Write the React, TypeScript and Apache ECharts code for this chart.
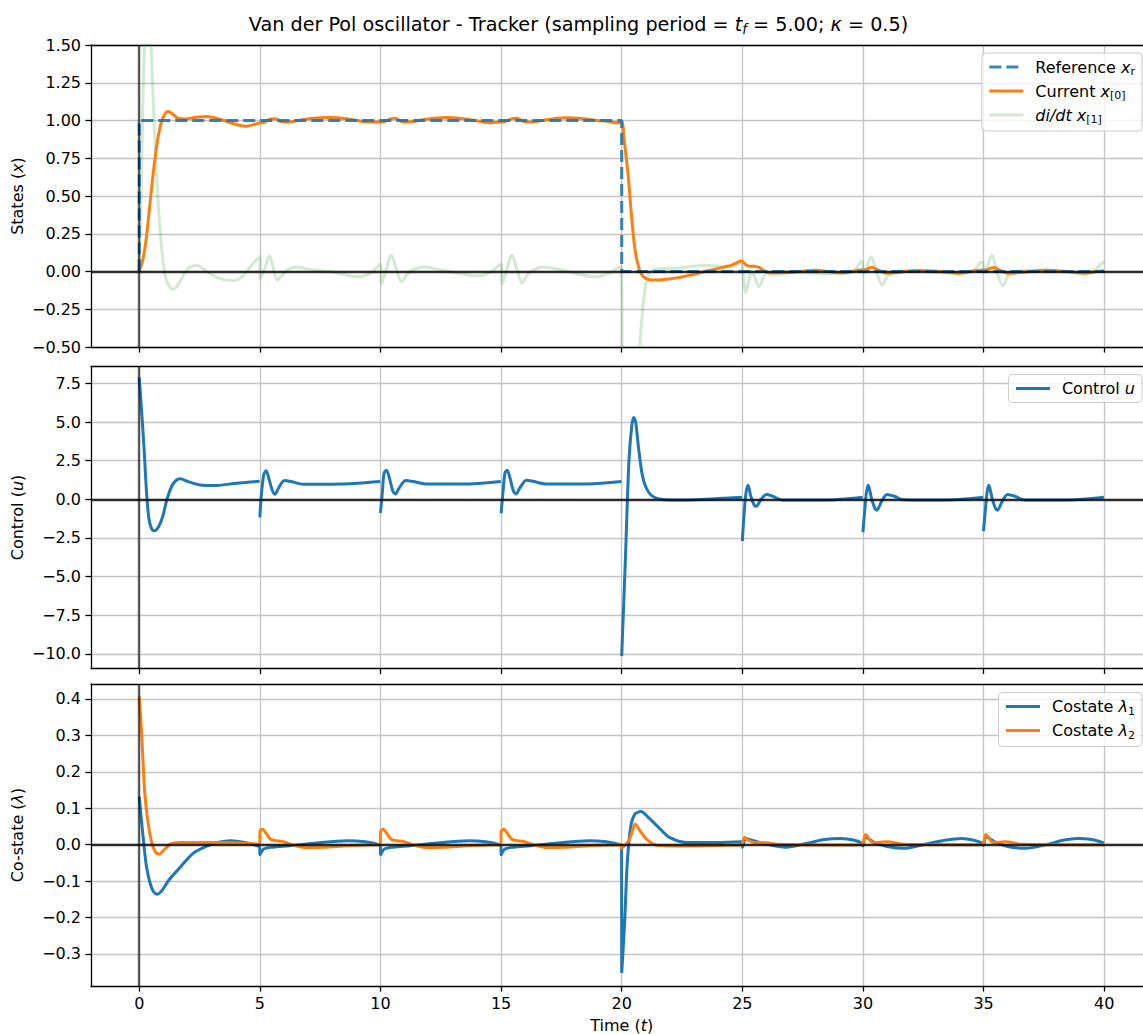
import React, { useEffect, useRef } from 'react';
import * as echarts from 'echarts';

// ---------- tick labels ----------
const X_TICKS = [0, 5, 10, 15, 20, 25, 30, 35, 40];
const Y_STATE_TICKS = [-0.5, -0.25, 0, 0.25, 0.5, 0.75, 1.0, 1.25, 1.5];
const Y_CONTROL_TICKS = [-10, -7.5, -5, -2.5, 0, 2.5, 5, 7.5];
const Y_COSTATE_TICKS = [-0.3, -0.2, -0.1, 0, 0.1, 0.2, 0.3, 0.4];

// ---------- series values [t, value] ----------
const REF_X: [number, number][] = [[0, 0], [0.001, 1], [20, 1], [20.001, 0], [40, 0]];

const CUR_X0: [number, number][] = [
  [0, 0], [0.15, 0.08], [0.3, 0.23], [0.45, 0.46], [0.6, 0.68], [0.75, 0.86], [0.9, 0.98], [1.05, 1.04], [1.2, 1.06],
  [1.4, 1.04], [1.6, 1.015], [1.9, 1.01], [2.3, 1.02], [2.8, 1.027], [3.3, 1.01], [3.7, 0.99], [4.1, 0.97], [4.45, 0.962],
  [4.8, 0.975], [5.0, 0.985],
  [5.2, 0.99], [5.45, 1.01], [5.65, 1.012], [5.85, 0.995], [6.1, 0.99], [6.6, 1.0], [7.2, 1.015], [7.9, 1.02], [8.6, 1.012],
  [9.2, 0.995], [9.6, 0.99], [10.0, 0.99],
  [10.2, 0.995], [10.45, 1.012], [10.6, 1.015], [10.85, 0.995], [11.1, 0.99], [11.6, 1.0], [12.2, 1.015], [12.8, 1.02],
  [13.5, 1.01], [14.1, 0.995], [14.5, 0.985], [15.0, 0.99],
  [15.2, 0.995], [15.45, 1.012], [15.65, 1.015], [15.9, 0.995], [16.2, 0.99], [16.7, 1.0], [17.2, 1.012], [17.7, 1.018],
  [18.4, 1.012], [19.0, 1.0], [19.4, 0.995], [19.8, 0.985], [20.0, 0.99],
  [20.1, 0.87], [20.26, 0.65], [20.4, 0.38], [20.54, 0.16], [20.7, 0.03], [20.9, -0.035], [21.26, -0.057], [21.98, -0.05],
  [22.84, -0.024], [23.7, 0.01], [24.55, 0.042], [24.97, 0.07],
  [25.15, 0.045], [25.3, 0.035], [25.5, 0.034], [25.7, 0.028], [25.9, 0.005], [26.15, -0.01], [27, -0.006], [28, 0.008],
  [29.1, -0.008], [29.7, 0.005], [29.95, 0.012],
  [30.1, 0.01], [30.25, 0.022], [30.4, 0.028], [30.6, 0.012], [31, -0.012], [31.5, -0.005], [32.3, 0.007], [33.2, 0.0],
  [34, -0.012], [34.6, 0.005], [34.95, 0.01],
  [35.1, 0.01], [35.3, 0.022], [35.45, 0.026], [35.65, 0.01], [36, -0.012], [36.6, -0.005], [37.6, 0.009], [38.5, 0.0],
  [39.2, -0.012], [39.7, 0.0], [40, 0.005],
];

const DIDT_X1: [number, number][] = [
  [0, 0], [0.08, 0.5], [0.16, 1.2], [0.25, 1.6], [0.35, 1.72], [0.45, 1.6], [0.55, 1.25], [0.65, 0.85], [0.75, 0.55],
  [0.85, 0.3], [1.0, 0.05], [1.15, -0.07], [1.4, -0.12], [1.6, -0.09], [1.85, -0.02], [2.1, 0.03], [2.4, 0.04], [2.8, 0.0],
  [3.3, -0.045], [3.9, -0.06], [4.3, -0.03], [4.7, 0.05], [5.0, 0.1],
  [5.02, -0.05], [5.2, 0.02], [5.4, 0.105], [5.55, 0.03], [5.72, -0.055], [5.9, -0.03], [6.15, 0.01], [6.5, 0.03],
  [7.2, 0.01], [7.9, 0.0], [8.5, -0.02], [9.1, -0.035], [9.6, -0.01], [10.0, 0.05],
  [10.05, -0.08], [10.25, 0.02], [10.44, 0.11], [10.65, 0.02], [10.87, -0.07], [11.1, -0.02], [11.4, 0.015], [11.8, 0.03],
  [12.5, 0.01], [13.2, -0.01], [14.0, -0.03], [14.5, -0.01], [15.0, 0.05],
  [15.05, -0.08], [15.25, 0.02], [15.44, 0.11], [15.65, 0.02], [15.87, -0.075], [16.1, -0.02], [16.4, 0.015], [16.7, 0.03],
  [17.5, 0.01], [18.3, -0.02], [18.9, -0.035], [19.5, -0.01], [19.95, 0.03],
  [20.0, 0.02], [20.02, -0.6], [20.1, -1.5], [20.3, -2.1], [20.45, -1.8], [20.6, -1.0], [20.75, -0.5], [20.9, -0.2],
  [21.05, -0.05], [21.3, 0.01], [22.4, 0.024], [23.4, 0.042], [24.55, 0.03], [24.97, 0.064],
  [25.0, 0.03], [25.15, -0.14], [25.4, 0.0], [25.7, -0.1], [26.0, -0.01], [26.6, 0.0], [27.7, -0.01], [28.5, -0.015],
  [29.1, -0.015], [29.6, 0.0], [29.95, 0.07],
  [30.05, -0.01], [30.35, 0.097], [30.55, 0.0], [30.8, -0.09], [31.05, -0.02], [31.25, 0.0], [32.0, 0.01], [33.4, -0.01],
  [34.5, 0.0], [34.95, 0.064],
  [35.05, -0.005], [35.35, 0.108], [35.55, 0.0], [35.8, -0.095], [36.05, -0.02], [36.3, 0.0], [37.6, 0.01], [39.0, -0.01],
  [39.5, 0.0], [40, 0.07],
];

// control u: one list per sampling period (drawn with gaps between them)
const U_0 = [[0, 7.9], [0.09, 5.9], [0.2, 3.3], [0.3, 0.5], [0.4, -1.24], [0.52, -1.93], [0.63, -2.04], [0.8, -1.78],
  [0.97, -1.13], [1.16, 0.07], [1.37, 0.93], [1.55, 1.25], [1.69, 1.33], [2.02, 1.15], [2.52, 0.93], [3.09, 0.89],
  [3.94, 1.02], [4.99, 1.17]];
const U_5 = [[5.0, -1.17], [5.05, 0.07], [5.16, 1.59], [5.26, 1.85], [5.37, 1.37], [5.51, 0.61], [5.63, 0.33], [5.77, 0.72],
  [6.02, 1.22], [6.3, 1.15], [6.8, 0.98], [7.94, 0.98], [9.08, 1.04], [9.99, 1.15]];
const U_10 = [[10.0, -0.87], [10.08, 0.5], [10.15, 1.7], [10.25, 1.89], [10.37, 1.37], [10.51, 0.54], [10.62, 0.35],
  [10.77, 0.72], [11.05, 1.22], [11.36, 1.15], [11.86, 1.0], [13.65, 1.0], [14.99, 1.15]];
const U_15 = [[15.0, -0.9], [15.08, 0.5], [15.16, 1.7], [15.25, 1.89], [15.37, 1.37], [15.51, 0.54], [15.62, 0.35],
  [15.77, 0.72], [16.05, 1.24], [16.36, 1.15], [16.86, 1.0], [18.6, 1.0], [19.99, 1.15]];
const U_20 = [[20.0, -10.15], [20.15, -4.0], [20.3, 2.5], [20.42, 4.8], [20.5, 5.3], [20.58, 5.0], [20.7, 3.3],
  [20.85, 1.6], [21.0, 0.8], [21.2, 0.3], [21.5, 0.05], [22.0, -0.05], [23, -0.03], [24, 0.05], [24.99, 0.13]];
const U_25 = [[25.0, -2.7], [25.08, -0.8], [25.16, 0.5], [25.24, 0.91], [25.35, 0.2], [25.5, -0.4], [25.58, -0.45],
  [25.75, -0.07], [26.0, 0.32], [26.25, 0.2], [26.7, -0.05], [28.4, -0.05], [29.99, 0.13]];
const U_30 = [[30.0, -2.13], [30.08, -0.6], [30.15, 0.5], [30.22, 0.91], [30.35, 0.1], [30.5, -0.6], [30.58, -0.7],
  [30.75, -0.2], [31.0, 0.32], [31.3, 0.2], [31.7, -0.03], [33.5, -0.05], [34.99, 0.13]];
const U_35 = [[35.0, -2.05], [35.08, -0.6], [35.15, 0.5], [35.22, 0.91], [35.35, 0.1], [35.5, -0.6], [35.58, -0.7],
  [35.75, -0.2], [36.0, 0.32], [36.3, 0.2], [36.7, -0.05], [38.5, -0.05], [39.99, 0.13]];
const U_SEGMENTS = [U_0, U_5, U_10, U_15, U_20, U_25, U_30, U_35];

const LAMBDA_1: [number, number][] = [
  [0, 0.132], [0.09, 0.068], [0.2, -0.005], [0.3, -0.06], [0.45, -0.106], [0.59, -0.129], [0.76, -0.136], [0.95, -0.125],
  [1.23, -0.097], [1.66, -0.065], [2.23, -0.024], [2.8, -0.004], [3.23, 0.006], [3.8, 0.011], [4.37, 0.006],
  [4.94, -0.004], [4.995, -0.01],
  [5.0, -0.028], [5.16, -0.012], [5.52, -0.007], [6.23, -0.003], [7.23, 0.004], [8.66, 0.011], [9.37, 0.008],
  [9.94, 0.0], [9.995, -0.005],
  [10.0, -0.028], [10.16, -0.012], [10.52, -0.007], [11.23, -0.003], [12.23, 0.004], [13.66, 0.011], [14.37, 0.008],
  [14.94, 0.0], [14.995, -0.005],
  [15.0, -0.028], [15.16, -0.012], [15.52, -0.007], [16.23, -0.003], [17.23, 0.004], [18.66, 0.011], [19.37, 0.008],
  [19.94, 0.0], [19.995, -0.004],
  [20.0, -0.352], [20.12, -0.215], [20.23, -0.05], [20.37, 0.048], [20.54, 0.083], [20.8, 0.091], [21.1, 0.075],
  [21.55, 0.046], [21.98, 0.02], [22.7, 0.006], [23.8, 0.006], [24.98, 0.008],
  [25.0, -0.007], [25.15, 0.017], [25.5, 0.01], [25.85, 0.004], [26.8, -0.007], [27.7, 0.004], [28.4, 0.014],
  [29.1, 0.017], [29.65, 0.012], [29.95, 0.004],
  [30.0, -0.004], [30.1, 0.02], [30.5, 0.005], [31.0, -0.005], [31.7, -0.01], [32.5, 0.0], [33.4, 0.012], [34.1, 0.017],
  [34.6, 0.012], [34.95, 0.004],
  [35.0, -0.002], [35.1, 0.022], [35.5, 0.006], [36.0, -0.005], [36.75, -0.01], [37.6, 0.0], [38.3, 0.012],
  [38.9, 0.017], [39.5, 0.014], [40, 0.004],
];

const LAMBDA_2: [number, number][] = [
  [0, 0.407], [0.09, 0.315], [0.16, 0.223], [0.23, 0.141], [0.35, 0.068], [0.49, 0.013], [0.66, -0.019], [0.83, -0.026],
  [1.02, -0.015], [1.3, 0.002], [1.66, 0.006], [2.94, 0.006], [4.37, 0.004], [4.995, 0.001],
  [5.0, 0.036], [5.11, 0.042], [5.26, 0.031], [5.44, 0.015], [5.66, 0.011], [5.94, 0.009], [6.37, -0.001], [6.94, -0.008],
  [7.65, -0.007], [8.66, -0.003], [9.94, 0.0], [9.995, 0.0],
  [10.0, 0.036], [10.11, 0.042], [10.26, 0.031], [10.44, 0.015], [10.66, 0.011], [10.94, 0.009], [11.37, -0.001],
  [11.94, -0.008], [12.65, -0.007], [13.66, -0.003], [14.94, 0.0], [14.995, 0.0],
  [15.0, 0.036], [15.11, 0.042], [15.26, 0.031], [15.44, 0.015], [15.66, 0.011], [15.94, 0.009], [16.37, -0.001],
  [16.94, -0.008], [17.65, -0.007], [18.66, -0.003], [19.94, 0.0], [19.995, 0.0],
  [20.0, -0.01], [20.15, 0.0], [20.28, 0.01], [20.4, 0.028], [20.56, 0.057], [20.75, 0.039], [21.03, 0.015],
  [21.45, -0.002], [22.4, -0.004], [24.1, -0.002], [24.98, -0.001],
  [25.0, 0.0], [25.1, 0.02], [25.25, 0.012], [25.5, 0.006], [25.85, 0.006], [26.5, 0.001], [28, -0.001], [29.95, 0.0],
  [30.0, 0.003], [30.12, 0.028], [30.35, 0.008], [30.6, 0.006], [31.0, 0.008], [31.7, 0.001], [33, 0.0], [34.95, 0.0],
  [35.0, 0.003], [35.1, 0.028], [35.4, 0.006], [35.9, 0.008], [36.6, 0.001], [38, 0.0], [40, 0.0],
];

// ---------- styling ----------
const FONT = 'DejaVu Sans';
const BLUE = '#1f77b4';
const ORANGE = '#ff7f0e';
const REF_BLUE = 'rgba(31,119,180,0.9)';
const GREEN_FAINT = 'rgba(44,160,44,0.22)';
const GRID_LINE = '#c4c4c4';
const LW = 3;
const DASH = [12, 5];

const richBase = {
  n: { fontFamily: FONT, fontSize: 16, color: '#000', lineHeight: 20 },
  i: { fontFamily: FONT, fontSize: 16, color: '#000', fontStyle: 'italic', lineHeight: 20 },
  s: { fontFamily: FONT, fontSize: 11, color: '#000', verticalAlign: 'bottom', lineHeight: 13 },
};

const LEGEND_TEXT: Record<string, string> = {
  'Reference x_r': '{n|Reference }{i|x}{s|r}',
  'Current x_[0]': '{n|Current }{i|x}{s|[0]}',
  'di/dt x_[1]': '{i|di/dt x}{s|[1]}',
  'Control u': '{n|Control }{i|u}',
  'Costate λ_1': '{n|Costate }{i|λ}{s|1}',
  'Costate λ_2': '{n|Costate }{i|λ}{s|2}',
};

const GRID_TOPS = [45, 366.5, 684];
const GRID_H = 302;
const GRID_LEFT = 91;
const X_MIN = -2;
const X_MAX = 41.61;

function fmt(digits: number) {
  return (v: number) => (v < 0 ? '\u2212' : '') + Math.abs(v).toFixed(digits);
}

function xAxis(i: number) {
  return {
    type: 'value', gridIndex: i, min: X_MIN, max: X_MAX, position: 'bottom',
    axisLine: { show: true, onZero: false, lineStyle: { color: '#000', width: 1.3 } },
    axisTick: { show: true, length: 5.6, customValues: X_TICKS, lineStyle: { color: '#000', width: 1.3 } },
    axisLabel: {
      show: i === 2, customValues: X_TICKS, fontFamily: FONT, fontSize: 16, color: '#000', margin: 9,
      formatter: (v: number) => String(v),
    },
    splitLine: { show: true, lineStyle: { color: GRID_LINE, width: 1.3 } },
  };
}

function topSpine(i: number) {
  return {
    type: 'value', gridIndex: i, min: X_MIN, max: X_MAX, position: 'top',
    axisLine: { show: true, onZero: false, lineStyle: { color: '#000', width: 1.3 } },
    axisTick: { show: false }, axisLabel: { show: false }, splitLine: { show: false },
  };
}

function yAxis(i: number, min: number, max: number, ticks: number[], digits: number) {
  return {
    type: 'value', gridIndex: i, min, max,
    axisLine: { show: true, onZero: false, lineStyle: { color: '#000', width: 1.3 } },
    axisTick: { show: true, length: 5.6, customValues: ticks, lineStyle: { color: '#000', width: 1.3 } },
    axisLabel: { customValues: ticks, fontFamily: FONT, fontSize: 16, color: '#000', margin: 10, formatter: fmt(digits) },
    splitLine: { show: true, lineStyle: { color: GRID_LINE, width: 1.3 } },
  };
}

function zeroLines(i: number) {
  return {
    type: 'line', xAxisIndex: i, yAxisIndex: i, data: [[0, 0]], symbol: 'none', silent: true, z: 1,
    lineStyle: { opacity: 0 },
    markLine: {
      silent: true, symbol: ['none', 'none'], label: { show: false }, animation: false,
      data: [
        { yAxis: 0, lineStyle: { color: 'rgba(0,0,0,0.8)', width: 2.4, type: 'solid' } },
        { xAxis: 0, lineStyle: { color: 'rgba(0,0,0,0.6)', width: 2.4, type: 'solid' } },
      ],
    },
  };
}

type LegendItem = { name: string; color: string; dash?: number[] };

function legend(items: LegendItem[], top: number, gap: number) {
  return {
    orient: 'vertical', right: 1, top, itemWidth: 34, itemHeight: 14, itemGap: gap,
    data: items.map((it) => ({
      name: it.name,
      itemStyle: { opacity: 0 },
      lineStyle: { color: it.color, width: 3, type: it.dash ? it.dash : 'solid', opacity: 1 },
    })),
    padding: [6, 7, 6, 6], backgroundColor: 'rgba(255,255,255,0.8)', borderColor: '#cccccc', borderWidth: 1,
    borderRadius: 4, selectedMode: false,
    itemStyle: { opacity: 0 },
    formatter: (name: string) => LEGEND_TEXT[name],
    textStyle: { fontFamily: FONT, fontSize: 16, color: '#000', padding: [0, 0, 0, 7], rich: richBase },
  };
}

function lineSeries(name: string, i: number, data: any[], color: string, extra: any = {}) {
  return {
    name, type: 'line', xAxisIndex: i, yAxisIndex: i, data, symbol: 'none', showSymbol: false,
    smooth: 0.3, z: 3, connectNulls: false,
    lineStyle: { color, width: LW, ...(extra.lineStyle || {}) },
    itemStyle: { color },
  };
}

const U_DATA: any[] = [];
U_SEGMENTS.forEach((seg, k) => {
  if (k > 0) U_DATA.push([seg[0][0], '-']);
  seg.forEach((p) => U_DATA.push(p));
});

const option: any = {
  animation: false,
  backgroundColor: '#ffffff',
  grid: GRID_TOPS.map((top) => ({ left: GRID_LEFT, right: 0, top, height: GRID_H, show: false })),
  xAxis: [xAxis(0), xAxis(1), xAxis(2), topSpine(0), topSpine(1), topSpine(2)],
  yAxis: [
    yAxis(0, -0.5, 1.5, Y_STATE_TICKS, 2),
    yAxis(1, -10.95, 8.6, Y_CONTROL_TICKS, 1),
    yAxis(2, -0.388, 0.441, Y_COSTATE_TICKS, 1),
  ],
  legend: [
    legend([
      { name: 'Reference x_r', color: REF_BLUE, dash: DASH },
      { name: 'Current x_[0]', color: ORANGE },
      { name: 'di/dt x_[1]', color: GREEN_FAINT },
    ], 53, 6),
    legend([{ name: 'Control u', color: BLUE }], 374.5, 8),
    legend([{ name: 'Costate λ_1', color: BLUE }, { name: 'Costate λ_2', color: ORANGE }], 692.5, 6),
  ],
  graphic: [
    {
      type: 'text', x: 578.5, y: 24, z: 10,
      style: {
        text: '{n|Van der Pol oscillator - Tracker (sampling period = }{i|t}{s|f}{n| = 5.00; }{i|κ}{n| = 0.5)}',
        align: 'center', verticalAlign: 'middle',
        rich: {
          n: { fontFamily: FONT, fontSize: 19.2, fill: '#000', lineHeight: 24 },
          i: { fontFamily: FONT, fontSize: 19.2, fill: '#000', fontStyle: 'italic', lineHeight: 24 },
          s: { fontFamily: FONT, fontSize: 13.4, fill: '#000', fontStyle: 'italic', verticalAlign: 'bottom', lineHeight: 16 },
        },
      },
    },
    ...[
      ['{n|States (}{i|x}{n|)}', GRID_TOPS[0] + GRID_H / 2],
      ['{n|Control (}{i|u}{n|)}', GRID_TOPS[1] + GRID_H / 2],
      ['{n|Co-state (}{i|λ}{n|)}', GRID_TOPS[2] + GRID_H / 2],
    ].map(([text, cy]) => ({
      type: 'text', x: 17, y: cy as number, rotation: Math.PI / 2, z: 10,
      style: {
        text: text as string, align: 'center', verticalAlign: 'middle',
        rich: {
          n: { fontFamily: FONT, fontSize: 16, fill: '#000' },
          i: { fontFamily: FONT, fontSize: 16, fill: '#000', fontStyle: 'italic' },
        },
      },
    })),
    {
      type: 'text', x: 621.8, y: 1025, z: 10,
      style: {
        text: '{n|Time (}{i|t}{n|)}', align: 'center', verticalAlign: 'middle',
        rich: {
          n: { fontFamily: FONT, fontSize: 16, fill: '#000' },
          i: { fontFamily: FONT, fontSize: 16, fill: '#000', fontStyle: 'italic' },
        },
      },
    },
  ],
  series: [
    zeroLines(0), zeroLines(1), zeroLines(2),
    lineSeries('di/dt x_[1]', 0, DIDT_X1, GREEN_FAINT),
    lineSeries('Current x_[0]', 0, CUR_X0, ORANGE),
    {
      ...lineSeries('Reference x_r', 0, REF_X, REF_BLUE, { lineStyle: { type: DASH } }),
      smooth: false, z: 4,
    },
    lineSeries('Control u', 1, U_DATA, BLUE),
    lineSeries('Costate λ_1', 2, LAMBDA_1, BLUE),
    lineSeries('Costate λ_2', 2, LAMBDA_2, ORANGE),
  ],
};

export default function App() {
  const ref = useRef<HTMLDivElement>(null);
  useEffect(() => {
    const chart = echarts.init(ref.current!, null, { renderer: 'svg' });
    chart.setOption(option);
    return () => chart.dispose();
  }, []);
  return (
    <div
      ref={ref}
      style={{ position: 'absolute', left: 0, top: 0, width: 1143, height: 1034, background: '#fff' }}
    />
  );
}
